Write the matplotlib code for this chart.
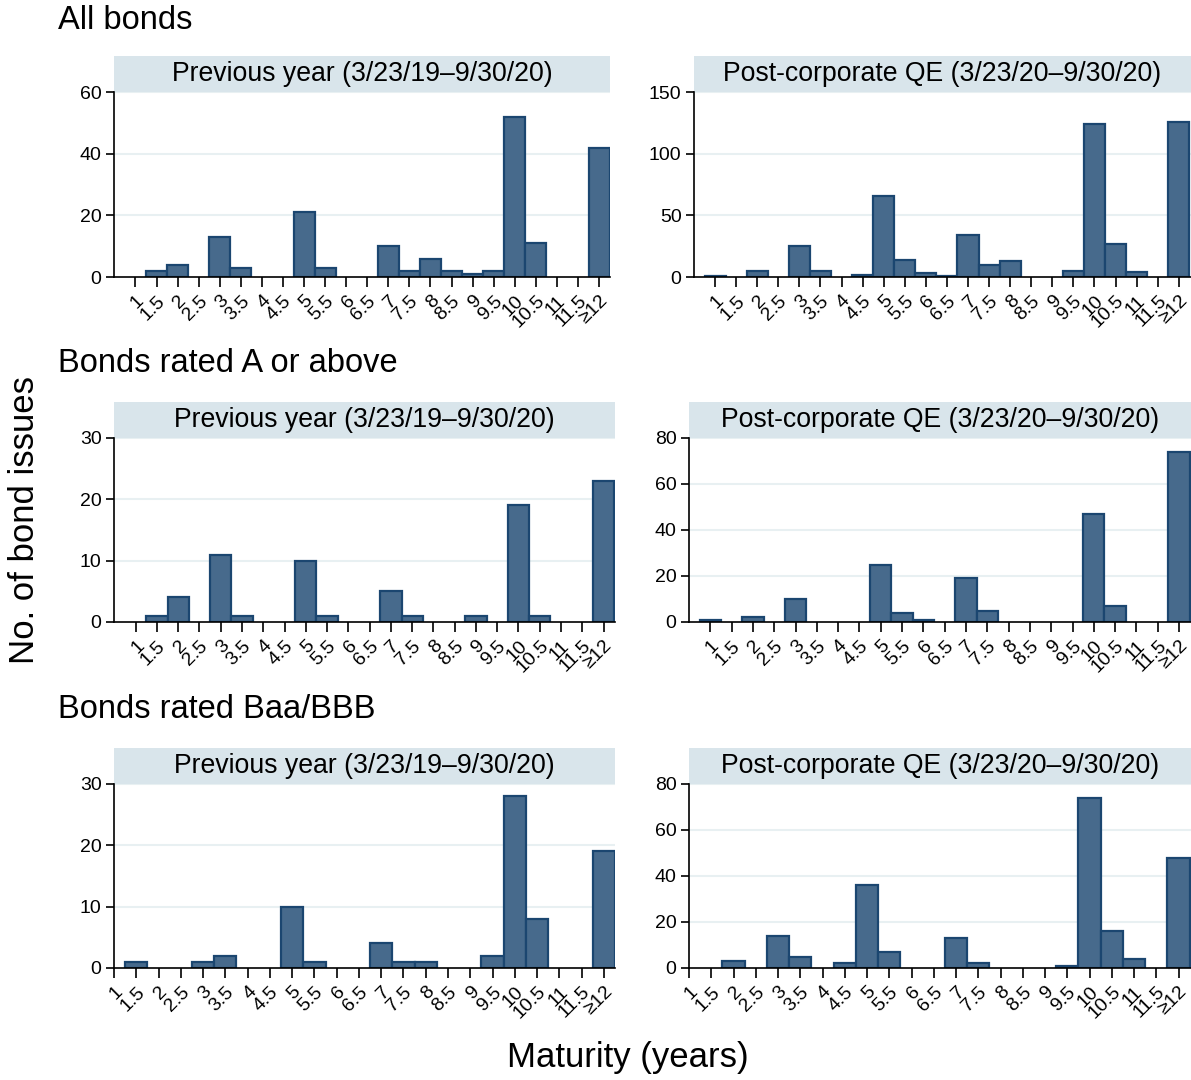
import matplotlib
matplotlib.use("Agg")
import matplotlib.pyplot as plt
from matplotlib.patches import Rectangle
import numpy as np

plt.rcParams['font.family'] = ['Liberation Sans', 'DejaVu Sans']

# ---------------- data ----------------
maturity = [1, 1.5, 2, 2.5, 3, 3.5, 4, 4.5, 5, 5.5, 6, 6.5, 7, 7.5, 8, 8.5,
            9, 9.5, 10, 10.5, 11, 11.5, 12]
maturity_labels = ["1", "1.5", "2", "2.5", "3", "3.5", "4", "4.5", "5", "5.5",
                   "6", "6.5", "7", "7.5", "8", "8.5", "9", "9.5", "10", "10.5",
                   "11", "11.5", "\u226512"]

all_prev = [0, 2, 4, 0, 13, 3, 0, 0, 21, 3, 0, 0, 10, 2, 6, 2, 1, 2, 52, 11, 0, 0, 42]
all_post = [1, 0, 5, 0, 25, 5, 0, 2, 66, 14, 3, 1, 34, 10, 13, 0, 0, 5, 124, 27, 4, 0, 126]
a_prev = [0, 1, 4, 0, 11, 1, 0, 0, 10, 1, 0, 0, 5, 1, 0, 0, 1, 0, 19, 1, 0, 0, 23]
a_post = [1, 0, 2, 0, 10, 0, 0, 0, 25, 4, 1, 0, 19, 5, 0, 0, 0, 0, 47, 7, 0, 0, 74]
bbb_prev = [0, 1, 0, 0, 1, 2, 0, 0, 10, 1, 0, 0, 4, 1, 1, 0, 0, 2, 28, 8, 0, 0, 19]
bbb_post = [0, 0, 3, 0, 14, 5, 0, 2, 36, 7, 0, 0, 13, 2, 0, 0, 0, 1, 74, 16, 4, 0, 48]

row_titles = ["All bonds", "Bonds rated A or above", "Bonds rated Baa/BBB"]
strip_titles = ["Previous year (3/23/19\u20139/30/20)",
                "Post-corporate QE (3/23/20\u20139/30/20)"]
yticks_list = [[0, 20, 40, 60], [0, 50, 100, 150],
               [0, 10, 20, 30], [0, 20, 40, 60, 80],
               [0, 10, 20, 30], [0, 20, 40, 60, 80]]
series = [all_prev, all_post, a_prev, a_post, bbb_prev, bbb_post]

# ---------------- layout (pixels) ----------------
W, H = 1191, 1080
fig = plt.figure(figsize=(W / 100, H / 100), dpi=100)

# (left, right, top, bottom, xmin, xmax)
boxes = [(114, 610, 92, 277, 0.49, 12.26),
         (694, 1191, 92, 277, 0.5, 12.29),
         (114, 615, 438, 622, 0.49, 12.27),
         (689, 1191, 438, 622, 0.5, 12.28),
         (114, 615, 784, 968, 1.0, 12.25),
         (689, 1191, 784, 968, 1.0, 12.28)]
title_baseline = [29, 372, 718]

FILL = '#476a8c'
EDGE = '#1b4670'
STRIP = '#d9e5eb'
GRID = '#e8f0f2'

for i, (l, r, t, b, x0, x1) in enumerate(boxes):
    ax = fig.add_axes([l / W, 1 - b / H, (r - l) / W, (b - t) / H])
    vals = np.array(series[i], dtype=float)
    x = np.array(maturity, dtype=float)
    m = vals > 0
    ax.bar(x[m], vals[m], width=0.5, color=FILL, edgecolor=EDGE,
           linewidth=1.6, zorder=3)
    yt = yticks_list[i]
    ax.set_ylim(0, yt[-1])
    ax.set_xlim(x0, x1)
    ax.set_yticks(yt)
    ax.set_yticklabels([str(v) for v in yt], fontsize=14)
    ax.set_xticks(maturity)
    ax.set_xticklabels(maturity_labels, rotation=45, ha='right', va='top',
                       rotation_mode='anchor', fontsize=14)
    ax.tick_params(axis='y', length=6, width=1.2, pad=3)
    ax.tick_params(axis='x', length=7, width=1.2, pad=4)
    for v in yt[1:]:
        ax.axhline(v, color=GRID, linewidth=1.5, zorder=1)
    for s in ['top', 'right']:
        ax.spines[s].set_visible(False)
    for s in ['left', 'bottom']:
        ax.spines[s].set_linewidth(1.2)
        ax.spines[s].set_color('black')
    ax.spines['bottom'].set_zorder(4)
    # strip
    sh = 36 / (b - t)
    ax.add_patch(Rectangle((0, 1), 1, sh, transform=ax.transAxes,
                           facecolor=STRIP, edgecolor='none', clip_on=False,
                           zorder=2))
    ax.text(0.5, 1 + sh / 2, strip_titles[i % 2], transform=ax.transAxes,
            ha='center', va='center', fontsize=19.2)

for k, ty in enumerate(title_baseline):
    fig.text(58 / W, 1 - ty / H, row_titles[k], ha='left', va='baseline',
             fontsize=23.5)

fig.text(25 / W, 1 - 520 / H, "No. of bond issues", rotation=90,
         ha='center', va='center', fontsize=25)
fig.text(628 / W, 1 - 1058 / H, "Maturity (years)", ha='center',
         va='center', fontsize=25)

fig.savefig("out.png", dpi=100, facecolor='white')
